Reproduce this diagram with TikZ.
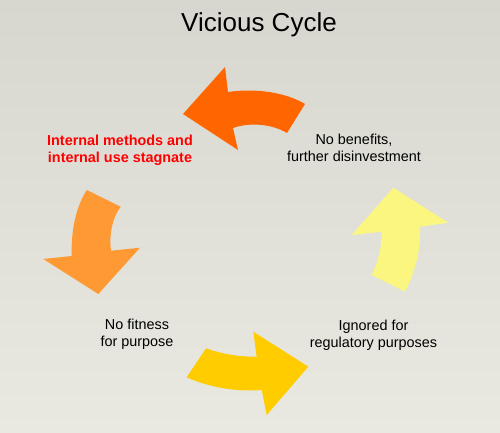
\documentclass[tikz,border=0pt]{standalone}
\usepackage{fontspec}
\setmainfont{Liberation Sans}
\usepackage{xcolor}
\usepackage{tikz}
\definecolor{bgtop}{RGB}{216,215,207}
\definecolor{bgbot}{RGB}{233,233,225}
\definecolor{cycA}{RGB}{255,102,0}
\definecolor{cycB}{RGB}{255,153,51}
\definecolor{cycC}{RGB}{255,204,0}
\definecolor{cycD}{RGB}{250,246,128}

\begin{document}
\begin{tikzpicture}[x=1pt, y=-1pt,
  lbl/.style={align=center, inner sep=0pt, font=\fontsize{14.4}{17}\selectfont},
  hot/.style={lbl, text=red, font=\fontsize{14.4}{17}\selectfont\bfseries}]
  % background
  \shade[top color=bgtop, bottom color=bgbot] (0,0) rectangle (500,432);
  \useasboundingbox (0,0) rectangle (500,432);
  \node[anchor=base, inner sep=0pt, font=\fontsize{26}{31}\selectfont] (title) at (259,31.5) {Vicious Cycle};
  % the four curved arrows
  \fill[cycA] (305,104) .. controls (285,92) and (255,88) .. (228,92) -- (225,67) -- (183,114)
    -- (238,150) -- (233,128) .. controls (250,122) and (272,124) .. (287,133) -- cycle;
  \fill[cycB] (86.7,190) .. controls (76,207) and (71,230) .. (71.7,256) -- (43.3,259) -- (98.3,294)
    -- (140,247.7) -- (111,250.7) .. controls (109,235) and (112,218) .. (120.7,206.7) -- cycle;
  \fill[cycC] (206,348.3) .. controls (222,354) and (240,357) .. (256.7,356.7) -- (253.3,331.7)
    -- (308.3,366.7) -- (266.7,415) -- (261.7,390) .. controls (235,392) and (208,387) .. (186.7,377.3) -- cycle;
  \fill[cycD] (371.7,275) .. controls (378,262) and (382,247) .. (381.7,231.7) -- (351.7,235)
    -- (393.3,187.7) -- (448.3,222.7) -- (420,226.7) .. controls (421,250) and (415,272) .. (405,291.7) -- cycle;
  % labels
  \node[hot] (stag) at (120,150.5) {Internal methods and\\internal use stagnate};
  \node[lbl] (disinv) at (354,147.5) {No benefits,\\further disinvestment};
  \node[lbl] (ignored) at (373.5,335.5) {Ignored for\\regulatory purposes};
  \node[lbl] (fitness) at (137,334) {No fitness\\for purpose};
\end{tikzpicture}
\end{document}
